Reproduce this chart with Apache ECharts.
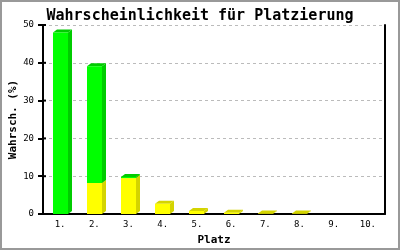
<!DOCTYPE html>
<html><head><meta charset="utf-8">
<script src="https://cdn.jsdelivr.net/npm/echarts@6/dist/echarts.min.js"></script>
<style>html,body{margin:0;padding:0;background:#fff}#c{width:400px;height:250px}</style>
</head><body><div id="c"></div>
<script>
const categories = ['1.','2.','3.','4.','5.','6.','7.','8.','9.','10.'];
const yellowValues = [0, 8.2, 9.5, 2.7, 0.8, 0.35, 0.15, 0.15, 0, 0];
const greenValues = [48, 30.9, 0.3, 0, 0, 0, 0, 0, 0, 0];
const yTicks = [0, 10, 20, 30, 40, 50];

const DX = 4, DY = 3;
function bar3d(front, side, top) {
  return function (params, api) {
    const i = api.value(0), v = api.value(1), base = api.value(2);
    if (!(v > 0)) return null;
    const pTop = api.coord([i, base + v]);
    const pBot = api.coord([i, base]);
    const w = api.size([1, 0])[0] * 0.44;
    const x0 = Math.round(pTop[0] - w / 2), x1 = Math.round(pTop[0] + w / 2);
    const yt = pTop[1], yb = pBot[1];
    return {
      type: 'group',
      children: [
        { type: 'polygon', shape: { points: [[x1, yt], [x1 + DX, yt - DY], [x1 + DX, yb - DY], [x1, yb]] }, style: { fill: side } },
        { type: 'polygon', shape: { points: [[x0, yt], [x0 + DX, yt - DY], [x1 + DX, yt - DY], [x1, yt]] }, style: { fill: top } },
        { type: 'rect', shape: { x: x0, y: yt, width: x1 - x0, height: yb - yt }, style: { fill: front } }
      ]
    };
  };
}

const chart = echarts.init(document.getElementById('c'), null, { renderer: 'canvas' });
const mono = 'DejaVu Sans Mono';
chart.setOption({
  animation: false,
  backgroundColor: '#fff',
  graphic: [{ type: 'rect', shape: { x: 1, y: 1, width: 398, height: 248 }, style: { fill: 'none', stroke: '#999', lineWidth: 2 }, silent: true }],
  title: { text: 'Wahrscheinlichkeit für Platzierung', left: 'center', top: 4,
    textStyle: { fontFamily: mono, fontWeight: 'bold', fontSize: 15, color: '#000' } },
  grid: { left: 43, right: 15, top: 25, bottom: 36, containLabel: false, outerBoundsMode: 'none' },
  xAxis: {
    type: 'category', data: categories,
    name: 'Platz', nameLocation: 'middle', nameGap: 21, nameMoveOverlap: false,
    nameTextStyle: { fontFamily: mono, fontWeight: 'bold', fontSize: 11, color: '#000' },
    axisLine: { lineStyle: { color: '#000', width: 2 } },
    axisTick: { show: false },
    axisLabel: { fontFamily: mono, fontSize: 9, color: '#000', margin: 6 }
  },
  yAxis: [{
    type: 'value', min: 0, max: 50, interval: 10,
    name: 'Wahrsch. (%)', nameLocation: 'middle', nameGap: 24, nameMoveOverlap: false,
    nameTextStyle: { fontFamily: mono, fontWeight: 'bold', fontSize: 11, color: '#000' },
    axisLine: { show: true, lineStyle: { color: '#000', width: 2 } },
    axisTick: { show: true, length: 5, lineStyle: { color: '#000', width: 2 } },
    axisLabel: { fontFamily: mono, fontSize: 9, color: '#000', margin: 9, formatter: v => yTicks.includes(v) ? String(v) : '' },
    splitLine: { show: true, lineStyle: { color: '#bbb', type: [3, 3], width: 1 } }
  }, {
    type: 'value', min: 0, max: 50, interval: 10, position: 'right',
    axisLine: { show: true, lineStyle: { color: '#000', width: 2 } },
    axisTick: { show: false }, axisLabel: { show: false }, splitLine: { show: false }
  }],
  series: [
    { type: 'custom', renderItem: bar3d('#ffff00', '#d4d400', '#d4d400'), encode: { x: 0, y: 1 },
      data: categories.map((c, i) => [i, yellowValues[i], 0]) },
    { type: 'custom', renderItem: bar3d('#00ff00', '#00cc00', '#00cc00'), encode: { x: 0, y: 1 },
      data: categories.map((c, i) => [i, greenValues[i], yellowValues[i]]) },
    { type: 'custom', encode: { x: 0, y: 1 },
      renderItem: function (params, api) {
        const p = api.coord([0, api.value(1)]);
        const x = p[0] - api.size([1, 0])[0] / 2;
        return { type: 'line', shape: { x1: x, y1: p[1], x2: x + 3, y2: p[1] }, style: { stroke: '#000', lineWidth: 2 } };
      },
      data: yTicks.map(v => [0, v]) }
  ]
});
</script></body></html>
